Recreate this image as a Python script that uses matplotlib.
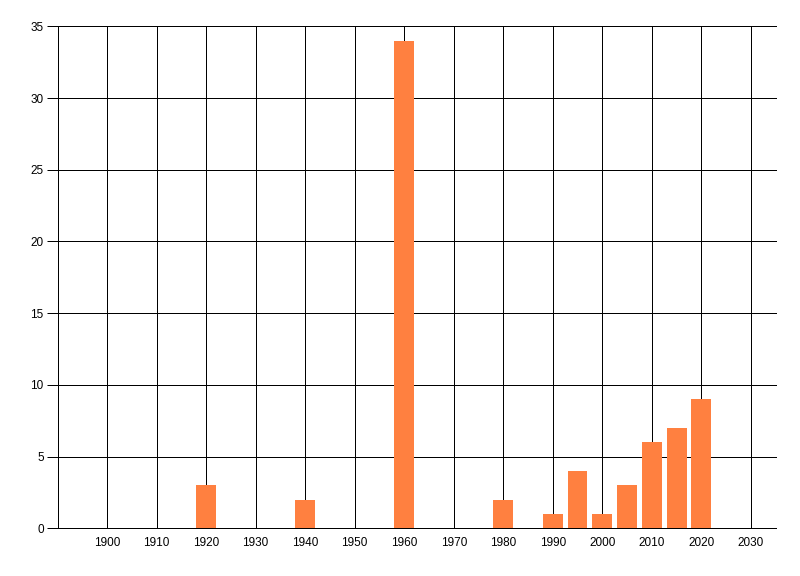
import matplotlib
matplotlib.use('Agg')
import matplotlib.pyplot as plt

# years and counts
years = [1920, 1940, 1960, 1980, 1990, 1995, 2000, 2005, 2010, 2015, 2020]
counts = [3, 2, 34, 2, 1, 4, 1, 3, 6, 7, 9]
xticks = list(range(1900, 2031, 10))
yticks = list(range(0, 36, 5))

plt.rcParams['font.family'] = ['Liberation Sans', 'DejaVu Sans']

fig = plt.figure(figsize=(8, 5.76), dpi=100)
ax = fig.add_axes([0.0719, 0.0828, 0.8977, 0.8715])

ax.bar(years, counts, width=4, color='#ff8040', zorder=3)

ax.set_xlim(1890, 2035)
ax.set_ylim(0, 35)
ax.set_xticks(xticks)
ax.set_yticks(yticks)
ax.tick_params(axis='x', length=0, pad=6, labelsize=8.5)
ax.tick_params(axis='y', length=8, width=0.72, pad=2, labelsize=8.5)

ax.grid(True, color='black', linewidth=0.72, zorder=0)
for gl in ax.get_xgridlines() + ax.get_ygridlines():
    gl.set_clip_on(False)

for side in ['top', 'right']:
    ax.spines[side].set_visible(False)
for side in ['left', 'bottom']:
    ax.spines[side].set_linewidth(0.72)

fig.savefig('out.png', dpi=100)
